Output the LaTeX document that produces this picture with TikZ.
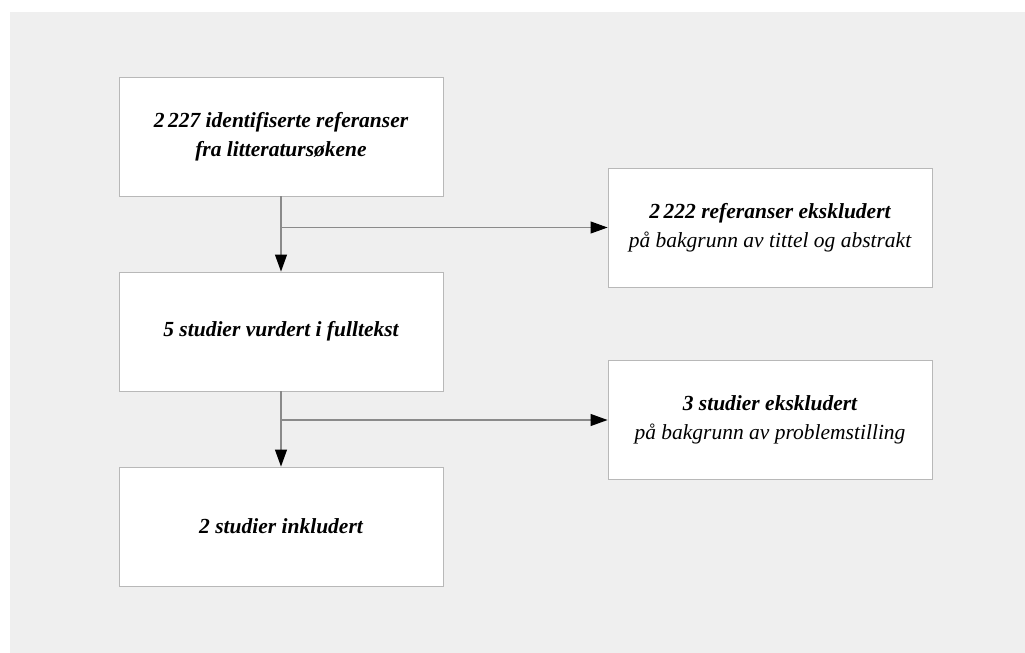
\documentclass[tikz,border=0pt]{standalone}
\usepackage{fontspec}
\setmainfont{Liberation Serif}
\usepackage{tikz}
\usetikzlibrary{arrows.meta,positioning}
\definecolor{bggray}{HTML}{EFEFEF}
\definecolor{boxgray}{HTML}{B8B8B8}
\definecolor{linegray}{HTML}{8A8A8A}
\begin{document}
\begin{tikzpicture}[x=1pt,y=-1pt,
    stepbox/.style={draw=boxgray, line width=0.9pt, fill=white, minimum width=324pt,
      minimum height=119pt, align=center, inner sep=0pt,
      font=\fontsize{21.5}{29}\selectfont\itshape},
    flow/.style={draw=linegray, line width=1.1pt, -{Triangle[length=17pt,width=12pt,color=black]}}]
      \useasboundingbox (0,0) rectangle (1025,653);
      \fill[white] (0,0) rectangle (1025,653);
      \fill[bggray] (10,12) rectangle (1025,653);
      \node[stepbox] (refs) at (281,136.5) {\bfseries 2\,227 identifiserte referanser\\ \bfseries fra litteraturs\o kene};
      \node[stepbox] (full) at (281,331.5) {\bfseries 5 studier vurdert i fulltekst};
      \node[stepbox] (incl) at (281,526.5) {\bfseries 2 studier inkludert};
      \node[stepbox] (excla) at (770,227.5) {\bfseries 2\,222 referanser ekskludert\\ p\aa{} bakgrunn av tittel og abstrakt};
      \node[stepbox] (exclb) at (770,420) {\bfseries 3 studier ekskludert\\ p\aa{} bakgrunn av problemstilling};
      \draw[flow] (refs.south) -- (full.north);
      \draw[flow] (refs.south |- excla.west) -- (excla.west);
      \draw[flow] (full.south) -- (incl.north);
      \draw[flow] (full.south |- exclb.west) -- (exclb.west);
    \end{tikzpicture}
\end{document}
